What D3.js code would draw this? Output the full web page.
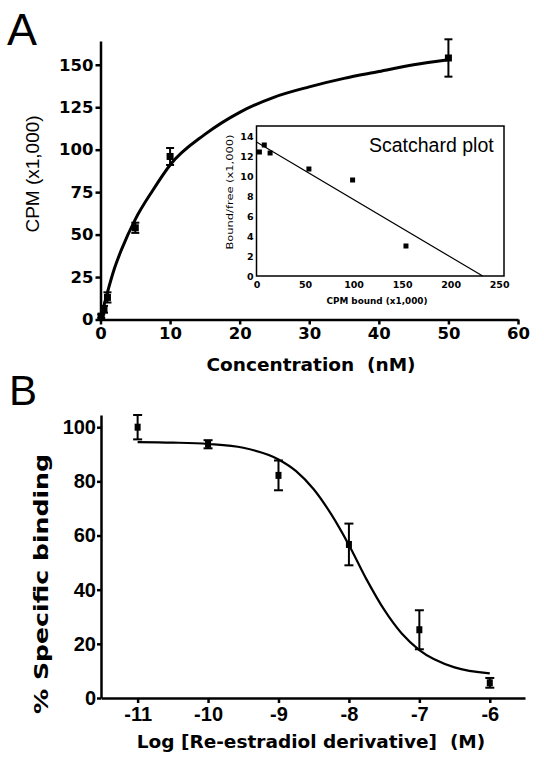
<!DOCTYPE html>
<html><head><meta charset="utf-8">
<script src="https://cdn.jsdelivr.net/npm/d3@7"></script>
<style>
html,body{margin:0;padding:0;background:#fff;}
svg{display:block;}
</style></head>
<body>
<script>
// ---- Panel A: saturation binding ----
const concA = [0.1, 0.5, 1, 5, 10, 50];
const cpmA = [2, 6, 13, 54, 96, 154];
const errA = [1, 2, 3, 3, 5, 11];
const fitAx = [0, 1, 2, 3, 5, 7.5, 10, 15, 20, 25, 30, 35, 40, 45, 50];
const fitAy = [0, 16, 30, 41, 59, 76, 91, 109, 122, 131, 137, 142, 146, 150, 153];
const ticksAx = [0, 10, 20, 30, 40, 50, 60];
const ticksAy = [0, 25, 50, 75, 100, 125, 150];

// ---- Inset: Scatchard plot ----
const boundS = [3, 8, 14, 54, 99, 154];
const ratioS = [12.4, 13.1, 12.3, 10.7, 9.6, 3.0];
const lineSx = [0, 233];
const lineSy = [13.4, 0];
const ticksSx = [0, 50, 100, 150, 200, 250];
const ticksSy = [0, 2, 4, 6, 8, 10, 12, 14];

// ---- Panel B: competition binding ----
const logB = [-11, -10, -9, -8, -7, -6];
const pctB = [100, 93.7, 82.2, 56.7, 25.2, 5.6];
const errB = [4.5, 1.5, 5.5, 7.7, 7.2, 1.8];
const fitBx = [-11, -10.5, -10, -9.5, -9, -8.75, -8.5, -8.25, -8, -7.75, -7.5, -7.25, -7, -6.5, -6];
const fitBy = [94.5, 94.3, 93.8, 92.4, 88.1, 83.8, 77.1, 67.8, 56.5, 43.8, 32.6, 23.8, 17.7, 11.3, 9.1];
const ticksBx = [-11, -10, -9, -8, -7, -6];
const ticksBy = [0, 20, 40, 60, 80, 100];

const svg = d3.select("body").append("svg").attr("width", 544).attr("height", 769);
const plain = d => String(d);

function styleAxis(g, font, size, weight, sw) {
  g.select(".domain").attr("stroke", "#000").attr("stroke-width", sw);
  g.selectAll(".tick line").attr("stroke", "#000").attr("stroke-width", sw);
  g.selectAll(".tick text").attr("fill", "#000").attr("font-family", font)
    .attr("font-size", size).attr("font-weight", weight);
}

function errorBars(g, xs, ys, es, x, y, cap, sw) {
  xs.forEach((v, i) => {
    const cx = x(v), y1 = y(ys[i] + es[i]), y2 = y(ys[i] - es[i]);
    g.append("line").attr("x1", cx).attr("x2", cx).attr("y1", y1).attr("y2", y2)
      .attr("stroke", "#000").attr("stroke-width", sw);
    [y1, y2].forEach(yy => g.append("line").attr("x1", cx - cap / 2).attr("x2", cx + cap / 2)
      .attr("y1", yy).attr("y2", yy).attr("stroke", "#000").attr("stroke-width", sw));
  });
}

// ================= Panel A =================
const xA = d3.scaleLinear().domain([0, 60]).range([100.5, 518]);
const yA = d3.scaleLinear().domain([0, 164]).range([319.5, 41]);

svg.append("text").attr("x", 7).attr("y", 45).text("A")
  .attr("font-family", "Liberation Sans, Arial, sans-serif").attr("font-size", 45);

const gAx = svg.append("g").attr("transform", `translate(0,${yA(0)})`)
  .call(d3.axisBottom(xA).tickValues(ticksAx).tickFormat(plain).tickSize(5).tickSizeOuter(0).tickPadding(3));
styleAxis(gAx, "DejaVu Sans, sans-serif", 16.5, "bold", 2.5);
const gAy = svg.append("g").attr("transform", `translate(${xA(0)},0)`)
  .call(d3.axisLeft(yA).tickValues(ticksAy).tickFormat(plain).tickSize(5).tickSizeOuter(0).tickPadding(2));
styleAxis(gAy, "DejaVu Sans, sans-serif", 16.5, "bold", 2.5);

svg.append("text").attr("x", 311).attr("y", 371).attr("text-anchor", "middle")
  .attr("font-family", "DejaVu Sans, sans-serif").attr("font-weight", "bold").attr("font-size", 18.5)
  .attr("xml:space", "preserve").text("Concentration  (nM)");
svg.append("text").attr("transform", "translate(39,174) rotate(-90)").attr("text-anchor", "middle")
  .attr("font-family", "Liberation Sans, Arial, sans-serif").attr("font-size", 19)
  .text("CPM (x1,000)");

const lineA = d3.line().x((d, i) => xA(fitAx[i])).y(d => yA(d)).curve(d3.curveMonotoneX);
svg.append("path").attr("d", lineA(fitAy)).attr("fill", "none").attr("stroke", "#000").attr("stroke-width", 3);

const gAe = svg.append("g");
errorBars(gAe, concA, cpmA, errA, xA, yA, 8, 2);
svg.append("g").selectAll("rect").data(cpmA).join("rect")
  .attr("x", (d, i) => xA(concA[i]) - 3.5).attr("y", d => yA(d) - 3.5)
  .attr("width", 7).attr("height", 7).attr("fill", "#000");

// ================= Inset =================
const xS = d3.scaleLinear().domain([0, 255]).range([256.5, 504]);
const yS = d3.scaleLinear().domain([0, 15]).range([276, 126]);

svg.append("rect").attr("x", xS(0)).attr("y", yS(15)).attr("width", xS(255) - xS(0))
  .attr("height", yS(0) - yS(15)).attr("fill", "#fff").attr("stroke", "#000").attr("stroke-width", 1.5);

const gSx = svg.append("g").attr("transform", `translate(0,${yS(0)})`)
  .call(d3.axisBottom(xS).tickValues(ticksSx).tickFormat(plain).tickSize(0).tickSizeOuter(0).tickPadding(5));
styleAxis(gSx, "DejaVu Sans, sans-serif", 9.5, "bold", 1.5);
gSx.select(".domain").remove();
const gSy = svg.append("g").attr("transform", `translate(${xS(0)},0)`)
  .call(d3.axisLeft(yS).tickValues(ticksSy).tickFormat(plain).tickSize(0).tickSizeOuter(0).tickPadding(3));
styleAxis(gSy, "DejaVu Sans, sans-serif", 9.5, "bold", 1.5);
gSy.select(".domain").remove();

svg.append("text").attr("x", 377).attr("y", 304).attr("text-anchor", "middle")
  .attr("font-family", "DejaVu Sans, sans-serif").attr("font-weight", "bold").attr("font-size", 9)
  .attr("textLength", 101).attr("lengthAdjust", "spacingAndGlyphs").text("CPM bound (x1,000)");
svg.append("text").attr("transform", "translate(233,192) rotate(-90)").attr("text-anchor", "middle")
  .attr("font-family", "DejaVu Sans, sans-serif").attr("font-size", 8.5)
  .attr("textLength", 115).attr("lengthAdjust", "spacingAndGlyphs").text("Bound/free (x1,000)");

svg.append("line").attr("x1", xS(lineSx[0])).attr("y1", yS(lineSy[0]))
  .attr("x2", xS(lineSx[1])).attr("y2", yS(lineSy[1])).attr("stroke", "#000").attr("stroke-width", 1.2);
svg.append("g").selectAll("rect").data(ratioS).join("rect")
  .attr("x", (d, i) => xS(boundS[i]) - 2.5).attr("y", d => yS(d) - 2.5)
  .attr("width", 5).attr("height", 5).attr("fill", "#000");

svg.append("text").attr("x", 369).attr("y", 152)
  .attr("font-family", "Liberation Sans, Arial, sans-serif").attr("font-size", 19.5).text("Scatchard plot");

// ================= Panel B =================
const xB = d3.scaleLinear().domain([-11.52, -5.5]).range([101, 525]);
const yB = d3.scaleLinear().domain([0, 104.5]).range([698, 415]);

svg.append("text").attr("x", 9).attr("y", 405).text("B")
  .attr("font-family", "Liberation Sans, Arial, sans-serif").attr("font-size", 42);

const gBx = svg.append("g").attr("transform", `translate(0,${yB(0)})`)
  .call(d3.axisBottom(xB).tickValues(ticksBx).tickFormat(plain).tickSize(5).tickSizeOuter(0).tickPadding(4));
styleAxis(gBx, "Liberation Sans, Arial, sans-serif", 20, "bold", 2.5);
const gBy = svg.append("g").attr("transform", `translate(${xB(-11.52)},0)`)
  .call(d3.axisLeft(yB).tickValues(ticksBy).tickFormat(plain).tickSize(4).tickSizeOuter(0).tickPadding(1));
styleAxis(gBy, "Liberation Sans, Arial, sans-serif", 20, "bold", 2.5);

svg.append("text").attr("x", 311).attr("y", 748).attr("text-anchor", "middle")
  .attr("font-family", "DejaVu Sans, sans-serif").attr("font-weight", "bold").attr("font-size", 18.5)
  .attr("xml:space", "preserve").text("Log [Re-estradiol derivative]  (M)");
svg.append("text").attr("transform", "translate(48,584) rotate(-90)").attr("text-anchor", "middle")
  .attr("font-family", "DejaVu Sans, sans-serif").attr("font-weight", "bold").attr("font-size", 19)
  .attr("textLength", 260).attr("lengthAdjust", "spacingAndGlyphs").text("% Specific binding");

const lineB = d3.line().x((d, i) => xB(fitBx[i])).y(d => yB(d)).curve(d3.curveMonotoneX);
svg.append("path").attr("d", lineB(fitBy)).attr("fill", "none").attr("stroke", "#000").attr("stroke-width", 2.2);

const gBe = svg.append("g");
errorBars(gBe, logB, pctB, errB, xB, yB, 9, 2);
svg.append("g").selectAll("rect").data(pctB).join("rect")
  .attr("x", (d, i) => xB(logB[i]) - 3).attr("y", d => yB(d) - 3.5)
  .attr("width", 6).attr("height", 7).attr("fill", "#000");
</script>
</body></html>
